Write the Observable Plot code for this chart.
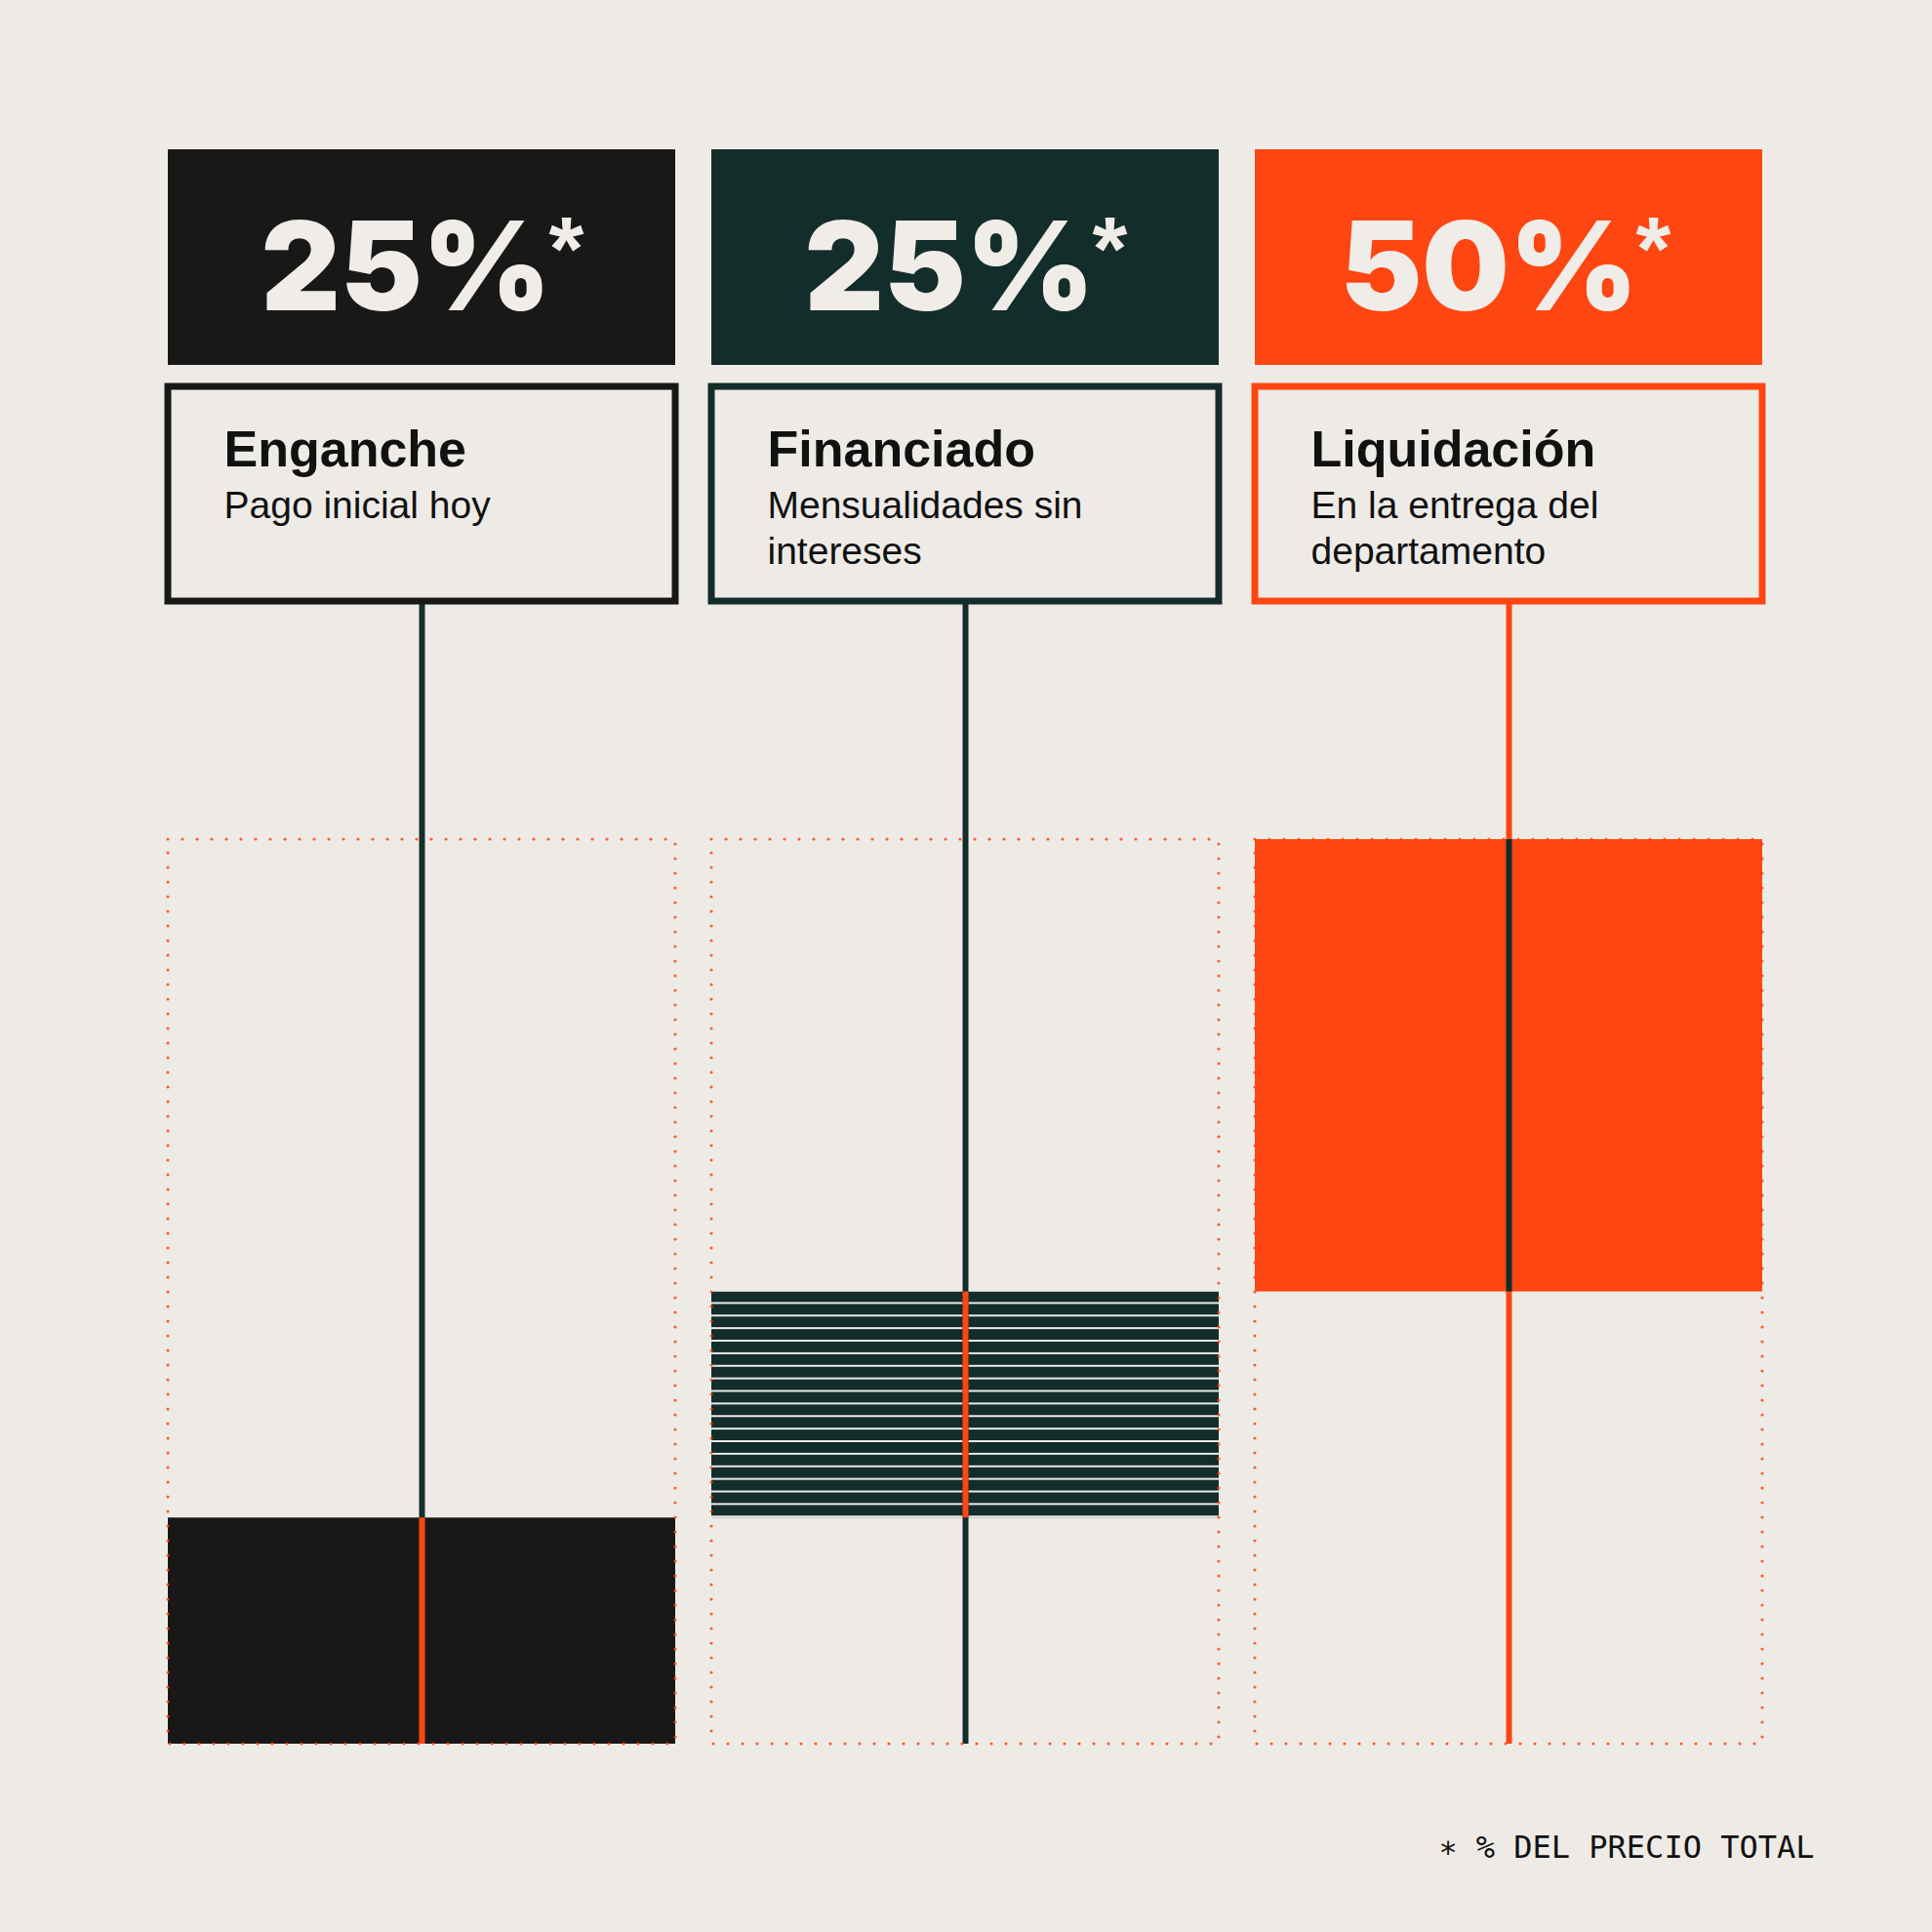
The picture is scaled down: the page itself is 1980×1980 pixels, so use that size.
<!DOCTYPE html>
<html>
<head>
<meta charset="utf-8">
<script src="https://cdn.jsdelivr.net/npm/d3@7"></script>
<script src="https://cdn.jsdelivr.net/npm/@observablehq/plot@0.6"></script>
<style>
  html, body { margin: 0; padding: 0; background: #eeebe7; }
  #chart svg { display: block; }
</style>
</head>
<body>
<svg width="0" height="0" style="position:absolute">
  <defs>
    <pattern id="stripes" patternUnits="objectBoundingBox" x="0" y="0" width="1" height="0.0555556">
      <rect x="0" y="0" width="3000" height="10.9" fill="#132d2a"></rect>
    </pattern>
  </defs>
</svg>
<div id="chart"></div>
<script>
// ---- data ----
const categories = ["Enganche", "Financiado", "Liquidación"];
const shares = [25, 25, 50];
const descriptions = ["Pago inicial hoy", "Mensualidades sin\nintereses", "En la entrega del\ndepartamento"];
const footnote = "∗ % DEL PRECIO TOTAL";

// ---- styles ----
const BG = "#eeebe7";
const BLACK = "#181818";
const GREEN = "#132d2a";
const ORANGE = "#fd4612";
const LIGHT = "#f0ece8";
const INK = "#111111";
const headerColors = [BLACK, GREEN, ORANGE];
const barFills = [BLACK, "url(#stripes)", ORANGE];
const lineColors = [GREEN, GREEN, ORANGE];
const overlayColors = [ORANGE, ORANGE, GREEN];
const SANS = "'Liberation Sans', Arial, Helvetica, sans-serif";
const DISPLAY = "Inter, 'Liberation Sans', Arial, sans-serif";
const MONO = "'DejaVu Sans Mono', 'Liberation Mono', monospace";

const ends = Array.from(d3.cumsum(shares));
const starts = ends.map((e, i) => e - shares[i]);

const chart = Plot.plot({
  width: 1980,
  height: 1980,
  marginTop: 860,
  marginBottom: 193,
  marginLeft: 172,
  marginRight: 173,
  x: {domain: categories, paddingInner: 0.0664, paddingOuter: 0, axis: null},
  y: {domain: [0, 100], axis: null},
  color: {type: "identity"},
  style: {background: BG, overflow: "visible"},
  marks: [
    // value bars (stacked shares)
    Plot.barY(categories, {x: d => d, y1: (d, i) => starts[i], y2: (d, i) => ends[i], fill: (d, i) => barFills[i]}),
    // connector lines from label box down to the base
    Plot.ruleX(categories, {x: d => d, stroke: (d, i) => lineColors[i], strokeWidth: 6, insetTop: -241}),
    // contrasting line segment across the share
    Plot.ruleX(categories, {x: d => d, y1: (d, i) => starts[i], y2: (d, i) => ends[i], stroke: (d, i) => overlayColors[i], strokeWidth: 6}),
    // dotted 100% frame
    Plot.barY(categories, {x: d => d, y1: 0, y2: 100, fill: "none", stroke: ORANGE, strokeOpacity: 0.85, strokeWidth: 3.2, strokeDasharray: "0 15", strokeLinecap: "round"}),
    // header boxes
    Plot.cell(categories, {x: d => d, fill: (d, i) => headerColors[i], insetTop: -707, insetBottom: 1413}),
    // label boxes
    Plot.cell(categories, {x: d => d, fill: BG, stroke: (d, i) => headerColors[i], strokeWidth: 7, insetTop: -464, insetBottom: 1171}),
    // big percentages
    Plot.text(categories, {x: d => d, text: (d, i) => `${shares[i]}%`, frameAnchor: "top", lineAnchor: "bottom", textAnchor: "end",
      dx: 132, dy: -543, fontSize: 126, fontWeight: 900, fontFamily: DISPLAY, fill: LIGHT, letterSpacing: -6}),
    Plot.text(categories, {x: d => d, text: () => "*", frameAnchor: "top", lineAnchor: "bottom", textAnchor: "start",
      dx: 130, dy: -574, fontSize: 92, fontWeight: 700, fontFamily: SANS, fill: LIGHT}),
    // titles
    Plot.text(categories, {x: d => d, text: d => d, frameAnchor: "top", lineAnchor: "bottom", textAnchor: "start",
      dx: -203, dy: -383, fontSize: 52, fontWeight: 700, fontFamily: SANS, fill: INK, letterSpacing: -0.5}),
    // descriptions
    Plot.text(categories, {x: d => d, text: (d, i) => descriptions[i], frameAnchor: "top", lineAnchor: "top", textAnchor: "start",
      dx: -203, dy: -362, fontSize: 39, lineHeight: 1.19, fontFamily: SANS, fill: INK}),
    // footnote
    Plot.text([footnote], {frameAnchor: "bottom-right", lineAnchor: "bottom", textAnchor: "end",
      dx: 52, dy: 116, fontSize: 32, letterSpacing: 0.3, fontFamily: MONO, fill: INK})
  ]
});
document.getElementById("chart").append(chart);
</script>
</body>
</html>
